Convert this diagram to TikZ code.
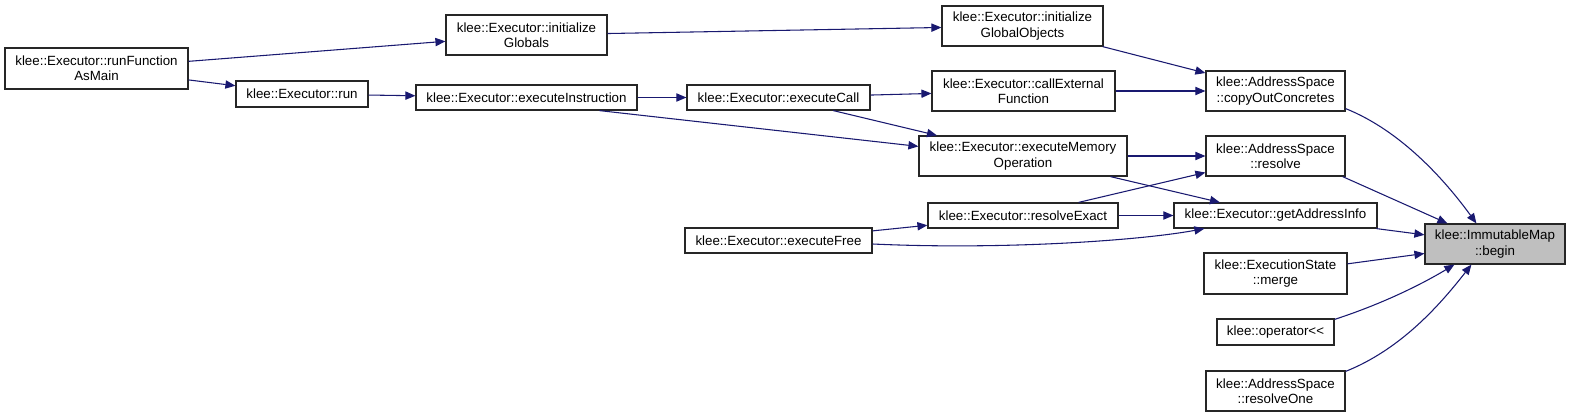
\documentclass[tikz,border=0pt]{standalone}
\usepackage{fontspec}
\setmainfont{Liberation Sans}
\usetikzlibrary{arrows.meta,calc}
\definecolor{edgeblue}{RGB}{25,25,112}
\definecolor{rootgray}{RGB}{191,191,191}
\begin{document}
\begin{tikzpicture}[x=0.75pt,y=-0.75pt,
  box/.style={draw=black!85, line width=0.9pt, fill=white, inner sep=0pt, align=center,
    font=\fontsize{10}{11.5}\selectfont},
  sz/.style 2 args={minimum width=#1*0.75pt, minimum height=#2*0.75pt},
  root/.style={fill=rootgray},
  edge/.style={draw=edgeblue, line width=0.8pt, -{Triangle[length=7.5pt,width=6.2pt]}},
]
\useasboundingbox (0,0) rectangle (1571,417);

\node[box, sz={183}{41}] (rfam)    at (96.5,68.5)  {klee::Executor::runFunction\\AsMain};
\node[box, sz={161}{40}] (initG)   at (526.5,35)   {klee::Executor::initialize\\Globals};
\node[box, sz={132}{26}] (run)     at (302,94)     {klee::Executor::run};
\node[box, sz={221}{25}] (exI)     at (526.5,97.5) {klee::Executor::executeInstruction};
\node[box, sz={161}{40}] (initGO)  at (1022.5,26)  {klee::Executor::initialize\\GlobalObjects};
\node[box, sz={183}{25}] (exCall)  at (778.5,97.5) {klee::Executor::executeCall};
\node[box, sz={183}{40}] (callExt) at (1023.5,91)  {klee::Executor::callExternal\\Function};
\node[box, sz={208}{40}] (exMem)   at (1023,156)   {klee::Executor::executeMemory\\Operation};
\node[box, sz={190}{25}] (resEx)   at (1023,215.5) {klee::Executor::resolveExact};
\node[box, sz={187}{25}] (exFree)  at (778.5,240.5) {klee::Executor::executeFree};
\node[box, sz={139}{40}] (copyOut) at (1275.5,91)  {klee::AddressSpace\\::copyOutConcretes};
\node[box, sz={139}{40}] (resolve) at (1275.5,156) {klee::AddressSpace\\::resolve};
\node[box, sz={203}{25}] (getAI)   at (1275.5,215.5) {klee::Executor::getAddressInfo};
\node[box, sz={143}{41}] (merge)   at (1275.5,273.5) {klee::ExecutionState\\::merge};
\node[box, sz={117}{26}] (opLL)    at (1275.5,332) {klee::operator<{}<};
\node[box, sz={139}{40}] (resOne)  at (1275.5,391) {klee::AddressSpace\\::resolveOne};
\node[box, root, sz={140}{40}] (begin) at (1495,244) {klee::ImmutableMap\\::begin};

\draw[edge] (rfam) -- (initG);
\draw[edge] (rfam) -- (run);
\draw[edge] (run) -- (exI);
\draw[edge] (initG) -- (initGO);
\draw[edge] (exI) -- (exCall);
\draw[edge] ($(exI.south west)+(184,0)$) -- ($(exMem.north west)+(0,11)$);
\draw[edge] (exCall) -- (callExt);
\draw[edge] (exCall) -- (exMem);
\draw[edge] (initGO) -- (copyOut);
\draw[edge] (callExt) -- (copyOut);
\draw[edge] (exMem) -- (resolve);
\draw[edge] (exMem) -- (getAI);
\draw[edge] (resEx) -- (resolve);
\draw[edge] (resEx) -- (getAI);
\draw[edge] (exFree) -- (resEx);
\draw[edge] ($(exFree.east)+(0,3.5)$) .. controls +(130,6) and +(-65,12) .. ($(getAI.south west)+(31,0)$);
\draw[edge] ($(copyOut.south east)+(0,-3)$) .. controls +(55,22) and +(-32,-44) .. ($(begin.north west)+(52,0)$);
\draw[edge] ($(resolve.south east)+(-3,0)$) -- ($(begin.north west)+(23,0)$);
\draw[edge] (getAI) -- (begin);
\draw[edge] (merge) -- (begin);
\draw[edge] ($(opLL.north east)+(0,1)$) .. controls +(46,-15) and +(-35,21) .. ($(begin.south west)+(30,0)$);
\draw[edge] ($(resOne.north east)+(0,1)$) .. controls +(55,-22) and +(-32,41) .. ($(begin.south west)+(47,0)$);
\end{tikzpicture}
\end{document}
